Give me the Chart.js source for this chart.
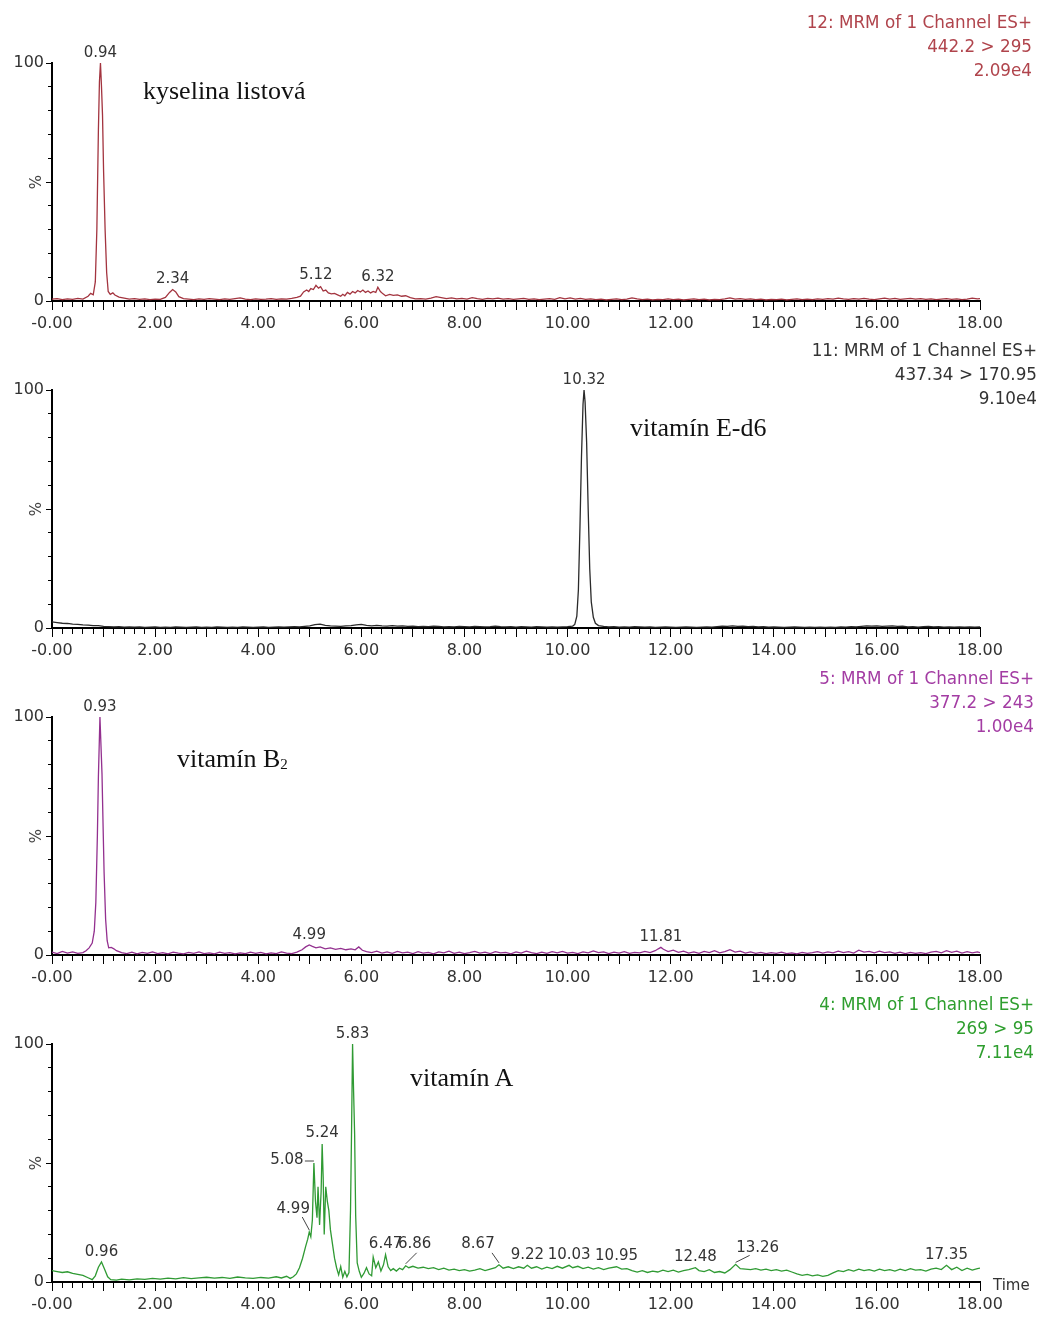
<!DOCTYPE html>
<html>
<head>
<meta charset="utf-8">
<script src="https://cdn.jsdelivr.net/npm/chart.js@4"></script>
<style>
  body { margin: 0; background: #fff; }
  #page { position: relative; width: 1042px; height: 1318px; overflow: hidden; }
  canvas { position: absolute; left: 0; }
  .hdr { position: absolute; font: 16.8px "DejaVu Sans"; line-height: 24px; text-align: right; white-space: nowrap; }
  .name { position: absolute; font: 26px "Liberation Serif"; line-height: 26px; color: #111; white-space: nowrap; }
  .name sub { font-size: 15px; vertical-align: -2px; }
  .time { position: absolute; font: 15px "DejaVu Sans"; line-height: 18px; color: #333; }
</style>
</head>
<body>
<div id="page">
  <canvas id="c0" width="1042" height="337" style="top:0px"></canvas>
  <canvas id="c1" width="1042" height="337" style="top:327px"></canvas>
  <canvas id="c2" width="1042" height="337" style="top:654px"></canvas>
  <canvas id="c3" width="1042" height="337" style="top:981px"></canvas>

  <div class="hdr" style="top:10px;right:10px;color:#b0444c">12: MRM of 1 Channel ES+<br>442.2 &gt; 295<br>2.09e4</div>
  <div class="hdr" style="top:338px;right:5px;color:#333">11: MRM of 1 Channel ES+<br>437.34 &gt; 170.95<br>9.10e4</div>
  <div class="hdr" style="top:666px;right:8px;color:#a33ca3">5: MRM of 1 Channel ES+<br>377.2 &gt; 243<br>1.00e4</div>
  <div class="hdr" style="top:992px;right:8px;color:#2e9e2e">4: MRM of 1 Channel ES+<br>269 &gt; 95<br>7.11e4</div>

  <div class="name" style="left:143px;top:78px">kyselina listová</div>
  <div class="name" style="left:630px;top:415px">vitamín E-d6</div>
  <div class="name" style="left:177px;top:746px">vitamín B<sub>2</sub></div>
  <div class="name" style="left:410px;top:1065px">vitamín A</div>
  <div class="time" style="left:993px;top:1276px">Time</div>
</div>
<script>
// retention time axis
const xTickValues = [0, 2, 4, 6, 8, 10, 12, 14, 16, 18];
const xTickLabels = ['-0.00', '2.00', '4.00', '6.00', '8.00', '10.00', '12.00', '14.00', '16.00', '18.00'];
const yTickValues = [0, 100];
const yTickLabels = ['0', '100'];

// traces: [time (min), relative intensity (%)]
const folicTrace = [
  [0.00,0.8],[0.10,1.0],[0.20,0.6],[0.30,0.9],[0.40,0.7],[0.50,1.1],[0.60,0.8],[0.70,2.0],[0.75,3.2],[0.80,2.6],
  [0.84,8],[0.87,30],[0.90,72],[0.92,92],[0.94,100],[0.96,90],[0.98,78],[1.00,55],[1.03,30],[1.06,12],
  [1.09,4],[1.13,2.8],[1.18,3.4],[1.22,2.5],[1.30,1.6],[1.40,1.2],[1.50,0.8],[1.60,1.0],[1.70,0.7],[1.80,0.9],
  [1.90,0.6],[2.00,0.8],[2.10,0.7],[2.20,1.5],[2.28,3.6],[2.34,4.8],[2.40,3.8],[2.46,1.8],[2.55,1.0],[2.65,0.8],
  [2.75,0.6],[2.85,0.9],[2.95,0.7],[3.05,1.0],[3.15,0.8],[3.25,0.6],[3.35,0.9],[3.45,0.7],[3.55,1.0],[3.65,1.3],
  [3.75,0.8],[3.85,0.6],[3.95,0.9],[4.05,0.7],[4.15,0.8],[4.25,1.0],[4.35,0.7],[4.45,0.9],[4.55,0.8],[4.65,1.1],
  [4.75,1.5],[4.82,2.0],[4.88,3.8],[4.94,4.6],[4.98,4.0],[5.02,5.2],[5.07,4.8],[5.12,6.6],[5.17,5.4],[5.21,6.0],
  [5.26,4.2],[5.31,4.6],[5.36,3.4],[5.42,3.0],[5.48,3.2],[5.54,2.6],[5.60,2.0],[5.64,2.8],[5.68,2.2],[5.73,3.6],
  [5.78,2.9],[5.83,4.0],[5.88,3.4],[5.93,4.4],[5.98,3.8],[6.03,4.6],[6.08,3.6],[6.13,4.2],[6.18,3.4],[6.23,4.0],
  [6.28,3.6],[6.32,5.8],[6.37,4.0],[6.42,3.0],[6.47,2.2],[6.55,2.8],[6.62,2.4],[6.70,2.6],[6.78,2.0],[6.86,2.2],
  [6.95,1.4],[7.05,0.9],[7.15,1.0],[7.25,0.8],[7.35,1.2],[7.45,1.8],[7.55,1.4],[7.65,1.0],[7.75,1.3],[7.85,0.9],
  [7.95,1.1],[8.05,0.8],[8.15,1.4],[8.25,1.0],[8.35,0.7],[8.45,1.1],[8.55,0.9],[8.65,1.2],[8.75,0.8],[8.85,1.0],
  [8.95,0.7],[9.05,0.9],[9.15,1.1],[9.25,0.7],[9.35,0.9],[9.45,0.6],[9.55,0.8],[9.65,1.0],[9.75,0.7],[9.85,1.4],
  [9.95,0.9],[10.05,1.3],[10.15,0.8],[10.25,1.1],[10.35,0.7],[10.45,0.9],[10.55,0.6],[10.65,0.8],[10.75,0.5],[10.85,0.7],
  [10.95,0.9],[11.05,0.6],[11.15,0.8],[11.25,1.3],[11.35,0.9],[11.45,0.6],[11.55,0.8],[11.65,0.5],[11.75,0.7],[11.85,0.6],
  [11.95,0.9],[12.05,0.6],[12.15,0.8],[12.25,0.5],[12.35,0.7],[12.45,0.9],[12.55,0.6],[12.65,0.8],[12.75,0.5],[12.85,0.7],
  [12.95,0.6],[13.05,0.9],[13.15,1.3],[13.25,0.8],[13.35,1.0],[13.45,0.7],[13.55,0.9],[13.65,0.6],[13.75,0.8],[13.85,0.5],
  [13.95,0.7],[14.05,0.6],[14.15,0.8],[14.25,0.5],[14.35,0.7],[14.45,0.9],[14.55,0.6],[14.65,0.8],[14.75,0.6],[14.85,0.9],
  [14.95,0.7],[15.05,1.0],[15.15,0.8],[15.25,1.2],[15.35,0.9],[15.45,0.7],[15.55,1.0],[15.65,0.8],[15.75,1.1],[15.85,0.8],
  [15.95,0.6],[16.05,0.9],[16.15,1.2],[16.25,0.8],[16.35,1.1],[16.45,0.7],[16.55,0.9],[16.65,1.1],[16.75,0.8],[16.85,1.0],
  [16.95,0.7],[17.05,0.9],[17.15,0.6],[17.25,0.8],[17.35,1.0],[17.45,0.7],[17.55,0.9],[17.65,0.6],[17.75,0.8],[17.85,1.2],
  [17.95,0.9],[18.00,1.0]
];

const vitETrace = [
  [0.0,2.6],[0.1,2.3],[0.2,2.0],[0.3,1.9],[0.4,1.6],[0.5,1.5],[0.6,1.3],[0.7,1.2],[0.8,1.0],[0.9,1.0],
  [1.0,0.7],[1.1,0.6],[1.2,0.5],[1.3,0.6],[1.4,0.4],[1.5,0.5],[1.6,0.4],[1.7,0.5],[1.8,0.3],[1.9,0.4],
  [2.0,0.5],[2.1,0.3],[2.2,0.4],[2.3,0.3],[2.4,0.5],[2.5,0.4],[2.6,0.3],[2.7,0.4],[2.8,0.5],[2.9,0.3],
  [3.0,0.4],[3.1,0.3],[3.2,0.5],[3.3,0.4],[3.4,0.3],[3.5,0.4],[3.6,0.3],[3.7,0.5],[3.8,0.4],[3.9,0.3],
  [4.0,0.4],[4.1,0.5],[4.2,0.3],[4.3,0.4],[4.4,0.5],[4.5,0.4],[4.6,0.5],[4.7,0.6],[4.8,0.5],[4.9,0.7],
  [5.0,0.9],[5.1,1.4],[5.2,1.6],[5.3,1.1],[5.4,0.9],[5.5,0.8],[5.6,0.7],[5.7,0.9],[5.8,1.0],[5.9,1.3],
  [6.0,1.5],[6.1,1.1],[6.2,0.9],[6.3,1.1],[6.4,0.9],[6.5,0.8],[6.6,1.0],[6.7,0.8],[6.8,0.9],[6.9,0.7],
  [7.0,0.8],[7.1,0.6],[7.2,0.7],[7.3,0.6],[7.4,0.8],[7.5,0.7],[7.6,0.5],[7.7,0.6],[7.8,0.5],[7.9,0.7],
  [8.0,0.6],[8.1,0.5],[8.2,0.7],[8.3,0.6],[8.4,0.5],[8.5,0.6],[8.6,0.8],[8.7,0.6],[8.8,0.5],[8.9,0.6],
  [9.0,0.4],[9.1,0.6],[9.2,0.5],[9.3,0.4],[9.4,0.6],[9.5,0.5],[9.6,0.4],[9.7,0.5],[9.8,0.4],[9.9,0.5],
  [10.0,0.6],[10.1,0.8],[10.14,1.5],[10.18,5],[10.21,16],[10.24,42],[10.27,72],[10.30,94],[10.32,100],[10.34,95],
  [10.37,78],[10.40,50],[10.43,25],[10.46,11],[10.50,4.5],[10.54,2.0],[10.6,1.0],[10.7,0.7],[10.8,0.5],[10.9,0.6],
  [11.0,0.4],[11.1,0.5],[11.2,0.4],[11.3,0.6],[11.4,0.5],[11.5,0.4],[11.6,0.5],[11.7,0.3],[11.8,0.4],[11.9,0.5],
  [12.0,0.4],[12.1,0.3],[12.2,0.4],[12.3,0.5],[12.4,0.4],[12.5,0.3],[12.6,0.4],[12.7,0.5],[12.8,0.4],[12.9,0.6],
  [13.0,0.8],[13.1,0.7],[13.2,0.9],[13.3,0.7],[13.4,0.8],[13.5,0.6],[13.6,0.7],[13.7,0.5],[13.8,0.6],[13.9,0.4],
  [14.0,0.5],[14.1,0.4],[14.2,0.3],[14.3,0.4],[14.4,0.5],[14.5,0.4],[14.6,0.3],[14.7,0.4],[14.8,0.3],[14.9,0.4],
  [15.0,0.3],[15.1,0.4],[15.2,0.3],[15.3,0.5],[15.4,0.4],[15.5,0.6],[15.6,0.5],[15.7,0.7],[15.8,0.9],[15.9,0.8],
  [16.0,0.9],[16.1,0.7],[16.2,0.8],[16.3,0.9],[16.4,0.7],[16.5,0.8],[16.6,0.5],[16.7,0.6],[16.8,0.4],[16.9,0.6],
  [17.0,0.7],[17.1,0.5],[17.2,0.6],[17.3,0.4],[17.4,0.5],[17.5,0.4],[17.6,0.5],[17.7,0.4],[17.8,0.5],[17.9,0.4],
  [18.0,0.5]
];

const vitB2Trace = [
  [0.0,1.2],[0.1,0.6],[0.2,1.5],[0.3,0.8],[0.4,1.3],[0.5,0.7],[0.6,1.0],[0.66,1.8],[0.72,3.0],[0.78,5.0],
  [0.82,10],[0.85,22],[0.88,50],[0.90,75],[0.93,100],[0.95,88],[0.97,76],[0.99,55],[1.01,35],[1.04,15],
  [1.07,6],[1.10,3.0],[1.15,3.2],[1.20,2.6],[1.25,1.8],[1.35,1.0],[1.45,0.6],[1.55,1.2],[1.65,0.5],[1.75,1.1],
  [1.85,0.7],[1.95,1.3],[2.05,0.6],[2.15,1.0],[2.25,0.5],[2.35,1.2],[2.45,0.8],[2.55,0.5],[2.65,1.1],[2.75,0.7],
  [2.85,1.3],[2.95,0.6],[3.05,0.9],[3.15,0.5],[3.25,1.2],[3.35,0.7],[3.45,1.0],[3.55,0.5],[3.65,0.9],[3.75,0.6],
  [3.85,1.2],[3.95,0.7],[4.05,1.1],[4.15,0.5],[4.25,0.9],[4.35,0.6],[4.45,1.3],[4.55,0.8],[4.65,0.6],[4.75,1.2],
  [4.85,2.2],[4.92,3.4],[4.99,4.2],[5.05,3.6],[5.12,3.0],[5.20,3.4],[5.30,2.6],[5.40,3.0],[5.50,2.4],[5.60,2.8],
  [5.70,2.2],[5.80,2.6],[5.88,2.2],[5.95,3.4],[6.02,2.0],[6.10,1.4],[6.2,1.0],[6.3,1.6],[6.4,0.8],[6.5,1.3],
  [6.6,0.7],[6.7,1.5],[6.8,0.9],[6.9,1.2],[7.0,0.6],[7.1,1.4],[7.2,0.8],[7.3,1.1],[7.4,0.5],[7.5,1.3],
  [7.6,0.9],[7.7,1.6],[7.8,0.7],[7.9,1.2],[8.0,0.6],[8.1,1.0],[8.2,1.5],[8.3,0.8],[8.4,1.2],[8.5,0.6],
  [8.6,1.4],[8.7,0.9],[8.8,1.1],[8.9,0.5],[9.0,1.3],[9.1,0.8],[9.2,1.6],[9.3,1.0],[9.4,0.6],[9.5,1.2],
  [9.6,0.7],[9.7,1.4],[9.8,0.9],[9.9,1.5],[10.0,0.8],[10.1,1.1],[10.2,0.6],[10.3,1.3],[10.4,0.9],[10.5,1.7],
  [10.6,1.0],[10.7,1.3],[10.8,0.6],[10.9,1.2],[11.0,0.8],[11.1,1.4],[11.2,0.7],[11.3,1.1],[11.4,0.9],[11.5,1.5],
  [11.6,1.0],[11.7,1.8],[11.76,2.6],[11.81,3.2],[11.86,2.4],[11.95,1.4],[12.05,2.0],[12.15,1.1],[12.25,1.6],[12.35,0.8],
  [12.45,1.3],[12.55,0.7],[12.65,1.5],[12.75,1.0],[12.85,1.8],[12.95,0.9],[13.05,1.4],[13.15,2.2],[13.25,1.2],[13.35,1.6],
  [13.45,0.8],[13.55,1.3],[13.65,0.7],[13.75,1.1],[13.85,0.6],[13.95,1.0],[14.05,0.7],[14.15,1.2],[14.25,0.6],[14.35,0.9],
  [14.45,0.5],[14.55,1.1],[14.65,0.7],[14.75,1.0],[14.85,1.4],[14.95,0.8],[15.05,1.3],[15.15,0.9],[15.25,1.6],[15.35,1.0],
  [15.45,1.4],[15.55,0.8],[15.65,2.0],[15.75,1.2],[15.85,1.5],[15.95,0.9],[16.05,1.6],[16.15,1.0],[16.25,1.3],[16.35,0.7],
  [16.45,1.2],[16.55,0.6],[16.65,1.1],[16.75,0.7],[16.85,1.0],[16.95,0.6],[17.05,1.2],[17.15,1.5],[17.25,0.9],[17.35,1.8],
  [17.45,1.1],[17.55,1.6],[17.65,0.8],[17.75,1.4],[17.85,0.9],[17.95,1.3],[18.00,1.0]
];

const vitATrace = [
  [0.0,4.8],[0.1,4.4],[0.2,4.0],[0.3,4.3],[0.4,3.6],[0.5,3.2],[0.6,2.8],[0.7,1.8],[0.78,1.0],[0.84,2.6],
  [0.90,6.2],[0.96,8.4],[1.02,5.4],[1.08,2.2],[1.14,1.0],[1.25,0.8],[1.35,1.2],[1.5,0.9],[1.65,1.3],[1.8,1.1],
  [1.95,1.5],[2.1,1.2],[2.25,1.6],[2.4,1.3],[2.55,1.8],[2.7,1.4],[2.85,1.7],[3.0,2.0],[3.15,1.6],[3.3,1.9],
  [3.45,1.5],[3.6,2.1],[3.75,1.7],[3.9,1.5],[4.05,1.9],[4.2,1.6],[4.35,2.2],[4.45,1.7],[4.55,2.4],[4.62,1.5],
  [4.68,2.2],[4.74,3.4],[4.80,6.0],[4.86,10.0],[4.92,15.0],[4.96,18.0],[4.99,21.0],[5.02,19.0],[5.05,26.0],[5.08,50.0],
  [5.11,34.0],[5.14,27.0],[5.16,40.0],[5.19,24.0],[5.22,38.0],[5.24,58.0],[5.26,44.0],[5.28,20.0],[5.31,40.0],[5.34,34.0],
  [5.37,30.0],[5.40,22.0],[5.44,16.0],[5.48,10.0],[5.52,6.0],[5.56,3.0],[5.60,6.5],[5.64,2.0],[5.68,4.5],[5.72,2.2],
  [5.76,4.0],[5.79,30.0],[5.81,63.0],[5.83,100.0],[5.85,80.0],[5.87,62.0],[5.89,28.0],[5.92,8.0],[5.96,4.5],[6.00,2.0],
  [6.05,3.6],[6.10,6.0],[6.15,3.4],[6.20,2.6],[6.23,10.5],[6.28,6.0],[6.33,8.4],[6.38,4.6],[6.43,7.2],[6.47,11.5],
  [6.52,6.4],[6.57,4.8],[6.62,5.6],[6.68,4.6],[6.74,5.8],[6.80,5.2],[6.86,6.8],[6.92,6.0],[7.0,6.6],[7.1,5.8],
  [7.2,6.2],[7.3,5.6],[7.4,6.0],[7.5,5.2],[7.6,5.8],[7.7,5.0],[7.8,5.4],[7.9,4.8],[8.0,5.2],[8.1,4.6],
  [8.2,5.0],[8.3,5.6],[8.4,4.8],[8.5,5.4],[8.6,6.0],[8.67,7.2],[8.75,5.8],[8.85,6.4],[8.95,5.6],[9.05,6.4],
  [9.15,5.8],[9.22,7.0],[9.3,5.8],[9.4,6.4],[9.5,5.4],[9.6,6.2],[9.7,5.6],[9.8,6.6],[9.9,5.8],[10.03,7.0],
  [10.1,6.0],[10.2,6.6],[10.3,5.6],[10.4,6.2],[10.5,5.4],[10.6,6.0],[10.7,5.2],[10.8,5.8],[10.95,6.4],[11.05,5.4],
  [11.15,5.6],[11.25,4.8],[11.35,4.2],[11.45,4.8],[11.55,4.0],[11.65,4.6],[11.75,4.2],[11.85,5.0],[11.95,4.4],[12.05,5.0],
  [12.15,4.2],[12.25,4.8],[12.35,5.2],[12.48,6.0],[12.55,4.8],[12.65,4.4],[12.75,5.2],[12.85,4.0],[12.95,4.4],[13.05,3.8],
  [13.15,5.2],[13.26,7.4],[13.35,5.6],[13.45,5.4],[13.55,5.2],[13.65,5.6],[13.75,5.0],[13.85,5.4],[13.95,4.8],[14.05,5.2],
  [14.15,4.6],[14.25,5.0],[14.35,4.2],[14.45,3.4],[14.55,2.8],[14.65,3.2],[14.75,2.6],[14.85,3.0],[14.95,2.4],[15.05,2.8],
  [15.15,3.8],[15.25,4.8],[15.35,4.4],[15.45,5.2],[15.55,4.6],[15.65,5.4],[15.75,4.8],[15.85,5.2],[15.95,4.6],[16.05,5.4],
  [16.15,4.8],[16.25,5.2],[16.35,4.6],[16.45,5.4],[16.55,4.8],[16.65,5.6],[16.75,5.0],[16.85,5.2],[16.95,4.6],[17.05,5.4],
  [17.15,5.8],[17.25,5.2],[17.35,7.0],[17.45,5.2],[17.55,6.2],[17.65,4.8],[17.75,5.8],[17.85,5.0],[17.95,5.6],[18.00,5.8]
];

// labelled peak apexes (retention times)
const folicPeaks = [0.94, 2.34, 5.12, 6.32];
const vitEPeaks = [10.32];
const vitB2Peaks = [0.93, 4.99, 11.81];
const vitAPeaks = [0.96, 4.99, 5.08, 5.24, 5.83, 6.47, 6.86, 8.67, 9.22, 10.03, 10.95, 12.48, 13.26, 17.35];

// label placement for the crowded vitamin A trace (px from apex, leader start from label centre)
const vitANudge = {
  '4.99': { dx: -16, dy: -25, lead: [9, 10] },
  '5.08': { dx: -27, dy: -5, lead: [18, 3] },
  '6.86': { dx: 9, dy: -23, lead: [2, 10] },
  '8.67': { dx: -21, dy: -22, lead: [14, 10] },
  '13.26': { dx: 22, dy: -18, lead: [-8, 9] }
};

Chart.defaults.font.family = '"DejaVu Sans"';
Chart.defaults.font.size = 16;
Chart.defaults.color = '#333';

const isWhole = v => Math.abs(v - Math.round(v)) < 1e-6;

function peakLabelPlugin(peaks, nudge) {
  return {
    id: 'peakLabels',
    afterDatasetsDraw(chart) {
      const { ctx, scales: { x, y } } = chart;
      const pts = chart.data.datasets[0].data;
      ctx.save();
      ctx.font = '15px "DejaVu Sans"';
      ctx.fillStyle = '#333';
      ctx.strokeStyle = '#444';
      ctx.lineWidth = 1;
      ctx.textAlign = 'center';
      ctx.textBaseline = 'alphabetic';
      peaks.forEach(t => {
        const p = pts.find(d => Math.abs(d.x - t) < 1e-6);
        const px = x.getPixelForValue(p.x);
        const py = y.getPixelForValue(p.y);
        const n = nudge[t.toFixed(2)] || { dx: 0, dy: -12 };
        const lx = px + n.dx, ly = py + n.dy;
        ctx.fillText(t.toFixed(2), lx, ly + 5.5);
        if (n.lead) {
          ctx.beginPath();
          ctx.moveTo(lx + n.lead[0], ly + n.lead[1]);
          ctx.lineTo(px, py - 2);
          ctx.stroke();
        }
      });
      ctx.restore();
    }
  };
}

function drawPanel(id, trace, color, peaks, nudge) {
  new Chart(document.getElementById(id), {
    type: 'line',
    data: {
      datasets: [{
        data: trace.map(([x, y]) => ({ x, y })),
        borderColor: color,
        borderWidth: 1.3,
        pointRadius: 0,
        tension: 0,
        fill: false
      }]
    },
    options: {
      responsive: false,
      animation: false,
      devicePixelRatio: 1,
      events: [],
      layout: { padding: { top: 63, right: 62, left: 0, bottom: 0 } },
      plugins: { legend: { display: false }, tooltip: { enabled: false } },
      scales: {
        x: {
          type: 'linear',
          min: 0,
          max: 18,
          afterFit: s => { s.height = 36; },
          border: { display: true, color: '#000', width: 2 },
          grid: {
            drawOnChartArea: false,
            color: '#000',
            tickLength: 9,
            // whole minutes get the long tick, fifths of a minute a short one
            tickBorderDash: c => (c.tick && isWhole(c.tick.value)) ? [] : [5, 40]
          },
          ticks: {
            stepSize: 0.2,
            maxTicksLimit: 200,
            autoSkip: false,
            maxRotation: 0,
            minRotation: 0,
            padding: 4,
            color: '#333',
            callback: v => {
              const i = xTickValues.findIndex(t => Math.abs(t - v) < 1e-6);
              return i >= 0 ? xTickLabels[i] : '';
            }
          }
        },
        y: {
          min: 0,
          max: 100,
          afterFit: s => { s.width = 52; },
          border: { display: true, color: '#000', width: 2 },
          grid: {
            drawOnChartArea: false,
            color: '#000',
            tickLength: 6,
            // left ticks are stroked from the outside in, so the short ones start with a gap
            tickBorderDash: c => (c.tick && (c.tick.value % 50 === 0)) ? [] : [0, 2, 3, 40]
          },
          title: {
            display: true,
            text: '%',
            color: '#444',
            font: { size: 15 },
            padding: { top: 28, bottom: 0 }
          },
          ticks: {
            stepSize: 10,
            autoSkip: false,
            padding: 2,
            color: '#333',
            callback: v => {
              const i = yTickValues.indexOf(v);
              return i >= 0 ? yTickLabels[i] : '';
            }
          }
        }
      }
    },
    plugins: [peakLabelPlugin(peaks, nudge)]
  });
}

drawPanel('c0', folicTrace, '#a3343f', folicPeaks, {});
drawPanel('c1', vitETrace, '#2a2a2a', vitEPeaks, {});
drawPanel('c2', vitB2Trace, '#93308f', vitB2Peaks, {});
drawPanel('c3', vitATrace, '#2f9a33', vitAPeaks, vitANudge);
</script>
</body>
</html>
